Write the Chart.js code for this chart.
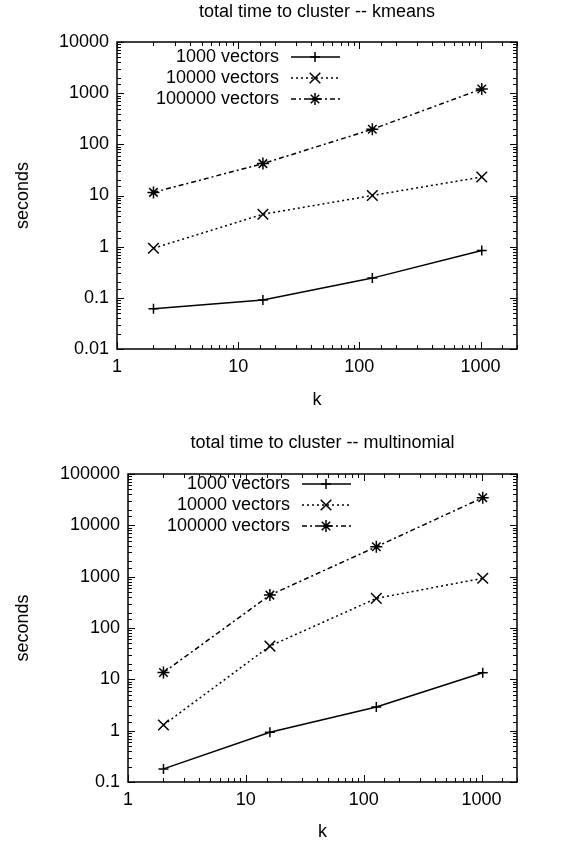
<!DOCTYPE html>
<html>
<head>
<meta charset="utf-8">
<script src="https://cdn.jsdelivr.net/npm/chart.js@4/dist/chart.umd.min.js"></script>
<style>
  html, body { margin: 0; padding: 0; background: #fff; }
  .box { position: relative; width: 588px; }
</style>
</head>
<body>
<div class="box" style="height:420px"><canvas id="kmeans"></canvas></div>
<div class="box" style="height:423px"><canvas id="multinomial"></canvas></div>
<script>
const kValues = [2, 16, 128, 1024];
const seriesNames = ['1000 vectors', '10000 vectors', '100000 vectors'];

const kmeans1000 = [0.061, 0.091, 0.243, 0.84];
const kmeans10000 = [0.93, 4.3, 10, 23];
const kmeans100000 = [11.5, 42, 197, 1210];

const multi1000 = [0.18, 0.93, 2.9, 13.4];
const multi10000 = [1.29, 44.5, 378, 930];
const multi100000 = [13.6, 437, 3830, 34600];

const xTickLabels = ['1', '10', '100', '1000'];
const kmeansYTickLabels = ['0.01', '0.1', '1', '10', '100', '1000', '10000'];
const multiYTickLabels = ['0.1', '1', '10', '100', '1000', '10000', '100000'];

const FONT = '"Liberation Sans", Arial, Helvetica, sans-serif';
Chart.defaults.font.family = FONT;
Chart.defaults.font.size = 18;
Chart.defaults.color = '#000';

function isDecade(v) {
  const e = Math.log10(v);
  return Math.abs(e - Math.round(e)) < 1e-6;
}

function decadeLabel(v, labels) {
  return labels.find(l => Math.abs(Math.log10(Number(l)) - Math.log10(v)) < 1e-6) || '';
}

// gnuplot style border with inward (mirrored) tick marks
const frame = {
  id: 'frame',
  beforeDatasetsDraw(chart) {
    const {ctx, chartArea: a, scales} = chart;
    ctx.save();
    ctx.strokeStyle = '#000';
    ctx.lineWidth = 1;
    ctx.beginPath();
    scales.x.ticks.forEach(t => {
      const px = Math.round(scales.x.getPixelForValue(t.value)) + 0.5;
      const len = isDecade(t.value) ? 7 : 4;
      ctx.moveTo(px, a.bottom); ctx.lineTo(px, a.bottom - len);
      ctx.moveTo(px, a.top); ctx.lineTo(px, a.top + len);
    });
    scales.y.ticks.forEach(t => {
      const py = Math.round(scales.y.getPixelForValue(t.value)) + 0.5;
      const len = isDecade(t.value) ? 7 : 4;
      ctx.moveTo(a.left, py); ctx.lineTo(a.left + len, py);
      ctx.moveTo(a.right, py); ctx.lineTo(a.right - len, py);
    });
    ctx.stroke();
    ctx.lineWidth = 1.5;
    ctx.strokeRect(a.left, a.top, a.right - a.left, a.bottom - a.top);
    ctx.restore();
  }
};

// title centred on the plot + key in the top left corner
const keyAndTitle = {
  id: 'keyAndTitle',
  afterDraw(chart, args, opts) {
    const {ctx, chartArea: a} = chart;
    ctx.save();
    ctx.fillStyle = '#000';
    ctx.strokeStyle = '#000';
    ctx.font = '18px ' + FONT;
    ctx.textBaseline = 'middle';
    ctx.textAlign = 'center';
    ctx.fillText(opts.title, (a.left + a.right) / 2, opts.titleY);
    ctx.textAlign = 'right';
    chart.data.datasets.forEach((ds, i) => {
      const y = a.top + opts.keyTop + i * 21;
      const tx = a.left + 162;
      ctx.fillText(ds.label, tx, y);
      ctx.lineWidth = ds.borderWidth;
      ctx.setLineDash(ds.borderDash);
      ctx.beginPath();
      ctx.moveTo(tx + 12, y);
      ctx.lineTo(tx + 61, y);
      ctx.stroke();
      ctx.setLineDash([]);
      ctx.lineWidth = ds.pointBorderWidth;
      Chart.helpers.drawPoint(ctx, {
        pointStyle: ds.pointStyle, radius: ds.pointRadius, rotation: 0, borderWidth: ds.pointBorderWidth
      }, tx + 36, y);
    });
    ctx.restore();
  }
};

function series(label, values, dash, style, radius) {
  return {
    label: label,
    data: kValues.map((k, i) => ({x: k, y: values[i]})),
    borderColor: '#000',
    borderWidth: 1.5,
    borderDash: dash,
    pointStyle: style,
    pointRadius: radius,
    pointBorderColor: '#000',
    pointBorderWidth: 1.5,
    pointBackgroundColor: 'rgba(0,0,0,0)',
    fill: false,
    tension: 0
  };
}

function makeChart(id, v1, v2, v3, cfg) {
  new Chart(document.getElementById(id), {
    type: 'line',
    plugins: [frame, keyAndTitle],
    data: {
      datasets: [
        series(seriesNames[0], v1, [], 'cross', 5),
        series(seriesNames[1], v2, [2, 3], 'crossRot', 7.5),
        series(seriesNames[2], v3, [5, 3, 2, 3], 'star', 6)
      ]
    },
    options: {
      responsive: true,
      maintainAspectRatio: false,
      animation: false,
      layout: {padding: {top: cfg.top, right: 71, bottom: 0, left: 0}},
      plugins: {
        legend: {display: false},
        tooltip: {enabled: false},
        keyAndTitle: {title: cfg.title, titleY: cfg.titleY, keyTop: cfg.keyTop}
      },
      scales: {
        x: {
          type: 'logarithmic',
          min: 1,
          max: 2000,
          grid: {display: false, drawTicks: false},
          border: {display: false},
          ticks: {autoSkip: false, maxRotation: 0, padding: 7,
                  callback: v => decadeLabel(v, xTickLabels)},
          title: {display: true, text: 'k', padding: {top: 0, bottom: cfg.kPad}},
          afterFit(s) { s.height = cfg.xHeight; }
        },
        y: {
          type: 'logarithmic',
          min: cfg.ymin,
          max: cfg.ymax,
          grid: {display: false, drawTicks: false},
          border: {display: false},
          ticks: {autoSkip: false, padding: 8,
                  callback: v => decadeLabel(v, cfg.yLabels)},
          title: {display: true, text: 'seconds', padding: {top: 12, bottom: 0}},
          afterFit(s) { s.width = cfg.yWidth; }
        }
      }
    }
  });
}

makeChart('kmeans', kmeans1000, kmeans10000, kmeans100000, {
  title: 'total time to cluster -- kmeans', titleY: 12,
  top: 42, xHeight: 71, yWidth: 117, kPad: 9, keyTop: 15,
  ymin: 0.01, ymax: 10000, yLabels: kmeansYTickLabels
});

makeChart('multinomial', multi1000, multi10000, multi100000, {
  title: 'total time to cluster -- multinomial', titleY: 23,
  top: 54, xHeight: 61, yWidth: 128, kPad: 0, keyTop: 10,
  ymin: 0.1, ymax: 100000, yLabels: multiYTickLabels
});
</script>
</body>
</html>
